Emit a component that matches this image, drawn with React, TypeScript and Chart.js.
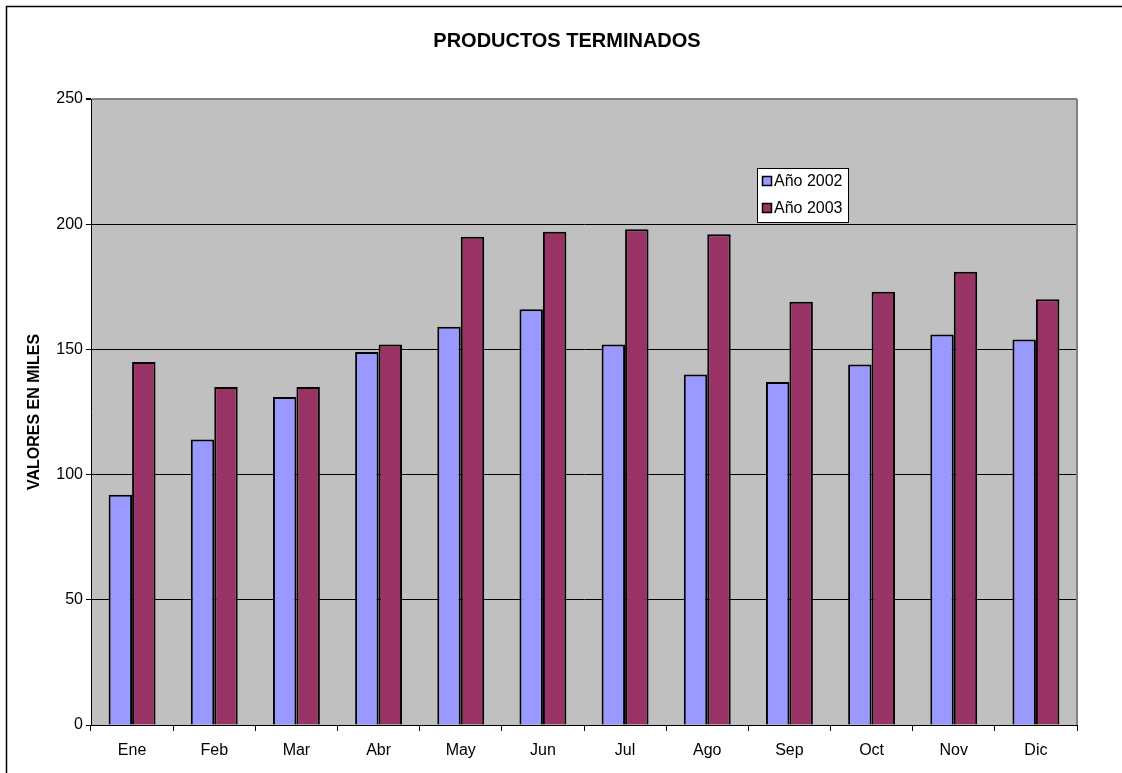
import React, { useEffect, useRef } from 'react';
import { Chart, registerables } from 'chart.js';

Chart.register(...registerables);

const months = ['Ene', 'Feb', 'Mar', 'Abr', 'May', 'Jun', 'Jul', 'Ago', 'Sep', 'Oct', 'Nov', 'Dic'];
const serie2002 = [92, 114, 131, 149, 159, 166, 152, 140, 137, 144, 156, 154];
const serie2003 = [145, 135, 135, 152, 195, 197, 198, 196, 169, 173, 181, 170];
const seriesNames = ['Año 2002', 'Año 2003'];
const seriesColors = ['#9999FF', '#993366'];
const yMin = 0;
const yMax = 250;
const yStep = 50;
const chartTitle = 'PRODUCTOS TERMINADOS';
const yAxisTitle = 'VALORES EN MILES';

const FONT = "Arial, 'Liberation Sans', sans-serif";

const decorPlugin = {
  id: 'decor',
  beforeDraw(chart: any) {
    const { ctx, chartArea } = chart;
    ctx.save();
    ctx.fillStyle = '#FFFFFF';
    ctx.fillRect(0, 0, chart.width, chart.height);
    // outer frame
    ctx.strokeStyle = '#000000';
    ctx.lineWidth = 1.5;
    ctx.strokeRect(6.5, 6.5, chart.width + 20, chart.height + 20);
    // plot background
    ctx.fillStyle = '#C0C0C0';
    ctx.fillRect(chartArea.left, chartArea.top, chartArea.right - chartArea.left, chartArea.bottom - chartArea.top);
    ctx.restore();
  },
  afterDraw(chart: any) {
    const { ctx, chartArea } = chart;
    ctx.save();
    // right plot border
    ctx.strokeStyle = '#808080';
    ctx.lineWidth = 2;
    ctx.beginPath();
    ctx.moveTo(chartArea.right, chartArea.top);
    ctx.lineTo(chartArea.right, chartArea.bottom);
    ctx.stroke();

    // title
    ctx.fillStyle = '#000000';
    ctx.font = `bold 20px ${FONT}`;
    ctx.textAlign = 'center';
    ctx.textBaseline = 'middle';
    ctx.fillText(chartTitle, 567, 41);

    // legend
    const bx = 757, by = 168, bw = 91, bh = 54;
    ctx.fillStyle = '#FFFFFF';
    ctx.fillRect(bx, by, bw, bh);
    ctx.strokeStyle = '#000000';
    ctx.lineWidth = 1;
    ctx.strokeRect(bx + 0.5, by + 0.5, bw, bh);
    ctx.font = `16px ${FONT}`;
    ctx.textAlign = 'left';
    ctx.textBaseline = 'middle';
    chart.data.datasets.forEach((ds: any, i: number) => {
      const cy = by + 13 + i * 27;
      ctx.fillStyle = ds.backgroundColor;
      ctx.fillRect(bx + 5, cy - 5, 10, 10);
      ctx.strokeStyle = '#000000';
      ctx.lineWidth = 1.5;
      ctx.strokeRect(bx + 5.5, cy - 4.5, 9, 9);
      ctx.fillStyle = '#000000';
      ctx.fillText(ds.label, bx + 17, cy + 1);
    });
    ctx.restore();
  },
};

export default function App() {
  const canvasRef = useRef<HTMLCanvasElement | null>(null);

  useEffect(() => {
    document.body.style.margin = '0';
    const canvas = canvasRef.current;
    if (!canvas) return;
    const chart = new Chart(canvas, {
      type: 'bar',
      data: {
        labels: months,
        datasets: [
          {
            label: seriesNames[0],
            data: serie2002,
            backgroundColor: seriesColors[0],
            borderColor: '#000000',
            borderWidth: 2,
            categoryPercentage: 0.571,
            barPercentage: 1,
          },
          {
            label: seriesNames[1],
            data: serie2003,
            backgroundColor: seriesColors[1],
            borderColor: '#000000',
            borderWidth: 2,
            categoryPercentage: 0.571,
            barPercentage: 1,
          },
        ],
      },
      options: {
        responsive: false,
        animation: false,
        devicePixelRatio: 1,
        layout: { padding: { left: 7, top: 99, right: 45, bottom: 8 } },
        plugins: {
          legend: { display: false },
          title: { display: false },
          tooltip: { enabled: false },
        },
        scales: {
          x: {
            type: 'category',
            afterFit(scale: any) {
              scale.height = 40;
            },
            grid: {
              offset: true,
              drawOnChartArea: false,
              drawTicks: true,
              tickLength: 6,
              color: '#000000',
              lineWidth: 1,
            },
            border: { display: true, color: '#000000', width: 1 },
            ticks: {
              color: '#000000',
              font: { family: FONT, size: 16 },
              padding: 10,
              maxRotation: 0,
              autoSkip: false,
            },
          },
          y: {
            min: yMin,
            max: yMax,
            afterFit(scale: any) {
              scale.width = 84;
            },
            ticks: {
              stepSize: yStep,
              color: '#000000',
              font: { family: FONT, size: 16 },
              padding: 3,
            },
            grid: {
              color: (c: any) => (c.tick && c.tick.value === yMax ? '#808080' : '#000000'),
              tickColor: '#000000',
              lineWidth: (c: any) => (c.tick && c.tick.value === yMax ? 2 : 1),
              tickLength: 5,
            },
            border: { display: true, color: '#000000', width: 1 },
            title: {
              display: true,
              text: yAxisTitle,
              color: '#000000',
              font: { family: FONT, size: 16, weight: 'bold' },
              padding: { top: 18, bottom: 0 },
            },
          },
        },
      },
      plugins: [decorPlugin],
    });
    return () => chart.destroy();
  }, []);

  return <canvas ref={canvasRef} width={1122} height={773} style={{ display: 'block' }} />;
}
